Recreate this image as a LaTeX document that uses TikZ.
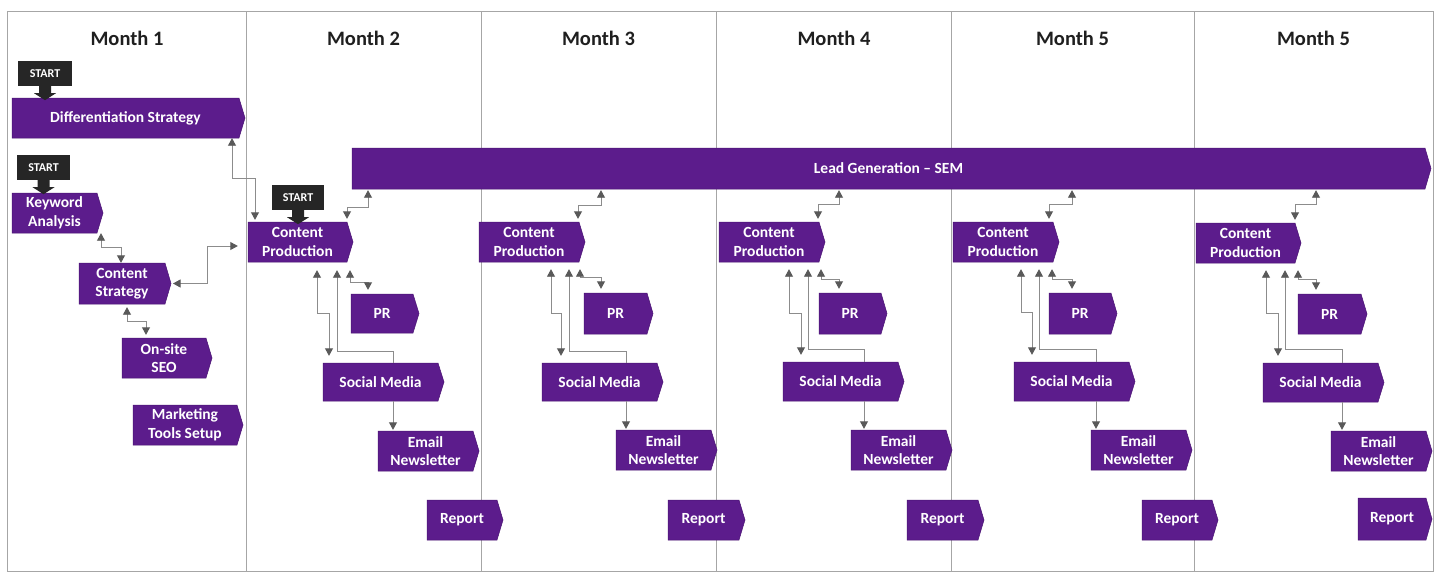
\documentclass[tikz,border=0pt]{standalone}
\usepackage{fontspec}
\setmainfont{Carlito}
\usetikzlibrary{arrows.meta}
\definecolor{stagepurple}{HTML}{5C1C8C}
\definecolor{stageedge}{HTML}{4A1473}
\definecolor{startdark}{HTML}{262626}
\definecolor{linegray}{HTML}{8C8C8C}
\definecolor{tipgray}{HTML}{595959}
\definecolor{framegray}{HTML}{A6A6A6}
\tikzset{
  stagefill/.style={fill=stagepurple, draw=stageedge, line width=0.5pt},
  stagetext/.style={text=white, font=\fontsize{15.5}{18.5}\selectfont\bfseries, align=center, inner sep=0pt},
  startbox/.style={fill=startdark, text=white, font=\fontsize{12}{14}\selectfont\bfseries, inner sep=0pt, minimum width=54pt, minimum height=25pt},
  startarr/.style={fill=startdark},
  monthhdr/.style={font=\fontsize{20.5}{24}\selectfont\bfseries, text=black!88, inner sep=0pt},
  frameline/.style={draw=framegray, line width=1pt},
  link/.style={draw=linegray, line width=0.9pt, >={Triangle[width=8pt,length=7.5pt,color=tipgray]}},
}
% #1 name, #2 x1, #3 y1, #4 x2 (tip), #5 y2, #6 text
\newcommand\stagebox[6]{%
  \fill[stagefill] (#2,#3) -- ({#4-6},#3) -- (#4,{(#3+#5)/2}) -- ({#4-6},#5) -- (#2,#5) -- cycle;
  \node[stagetext, minimum width={(#4-#2-6)*1pt}, minimum height={(#5-#3)*1pt}] (#1) at ({(#2+#4-6)/2},{(#3+#5)/2}) {#6};
}
\newcommand\startarrow[1]{%
  \fill[startarr] ([xshift=-6pt]#1.south) -- ++(0,7) -- ++(-5,0) -- ++(11,7) -- ++(11,-7) -- ++(-5,0) -- ++(0,-7) -- cycle;
}
\begin{document}
\begin{tikzpicture}[x=1pt,y=-1pt]
\fill[white] (0,0) rectangle (1440,576);
\useasboundingbox (0,0) rectangle (1440,576);
\draw[frameline] (7,11) rectangle (1433,571);
\foreach \x in {246,481,716,951,1194} \draw[frameline] (\x,11) -- (\x,571);

% headers
\node[monthhdr] (h1) at (127,38) {Month 1};
\node[monthhdr] (h2) at (363.5,38) {Month 2};
\node[monthhdr] (h3) at (598.5,38) {Month 3};
\node[monthhdr] (h4) at (834,38) {Month 4};
\node[monthhdr] (h5) at (1072.5,38) {Month 5};
\node[monthhdr] (h6) at (1313.5,38) {Month 5};

% Month 1
\stagebox{diff}{12}{98}{245}{138}{Differentiation Strategy}
\stagebox{kw}{12}{193}{103}{233}{Keyword\\Analysis}
\stagebox{cs}{79}{263}{171}{304}{Content\\Strategy}
\stagebox{seo}{122}{338}{212}{378}{On-site\\SEO}
\stagebox{mts}{133}{405}{243}{445}{Marketing\\Tools Setup}
\node[startbox] (s1) at (45,73.5) {START};
\node[startbox, minimum width=53pt] (s2) at (43.5,167.5) {START};
\startarrow{s1}
\startarrow{s2}

% Lead generation
\stagebox{lead}{352}{148}{1431}{189}{Lead Generation – SEM}

% Month 2
\stagebox{cp2}{248}{222}{353}{262}{Content\\Production}
\stagebox{pr2}{351}{294}{419}{333}{PR}
\stagebox{sm2}{323}{363}{444}{401}{Social Media}
\stagebox{em2}{378}{431}{479}{471}{Email\\Newsletter}
\stagebox{rep2}{427}{500}{503}{540}{Report}
\node[startbox, minimum width=52pt] (s3) at (298,197.5) {START};
\startarrow{s3}

% Month 3
\stagebox{cp3}{479}{222}{585}{262}{Content\\Production}
\stagebox{pr3}{584}{293}{653}{334}{PR}
\stagebox{sm3}{542}{363}{663}{401}{Social Media}
\stagebox{em3}{616}{430}{717}{470}{Email\\Newsletter}
\stagebox{rep3}{668}{500}{745}{540}{Report}

% Month 4
\stagebox{cp4}{719}{222}{825}{262}{Content\\Production}
\stagebox{pr4}{819}{293}{887}{334}{PR}
\stagebox{sm4}{783}{362}{904}{401}{Social Media}
\stagebox{em4}{851}{430}{952}{470}{Email\\Newsletter}
\stagebox{rep4}{907}{500}{984}{540}{Report}

% Month 5
\stagebox{cp5}{953}{222}{1059}{262}{Content\\Production}
\stagebox{pr5}{1049}{293}{1117}{334}{PR}
\stagebox{sm5}{1014}{362}{1135}{401}{Social Media}
\stagebox{em5}{1091}{430}{1192}{470}{Email\\Newsletter}
\stagebox{rep5}{1142}{500}{1218}{540}{Report}

% Month 6
\stagebox{cp6}{1196}{223}{1301}{263}{Content\\Production}
\stagebox{pr6}{1298}{294}{1367}{334}{PR}
\stagebox{sm6}{1263}{363}{1384}{402}{Social Media}
\stagebox{em6}{1331}{431}{1432}{471}{Email\\Newsletter}
\stagebox{rep6}{1358}{498}{1432}{540}{Report}

% Month 1 links
\draw[link,<->,shorten >=2pt] (diff.south -| 232,0) |- (255,178) -- (cp2.north -| 255,0);
\draw[link,<->] (kw.south -| 101,0) |- (121,247) -- (cs.north -| 121,0);
\draw[link,<->,shorten >=10pt] (cs.east -| 173,0) -| (207,246) -- (cp2.west |- 0,246);
\draw[link,<->,shorten <=3pt,shorten >=3pt] (cs.south -| 127,0) |- (146,321) -- (seo.north -| 146,0);

% Month 2 links
\draw[link,<->,shorten <=3pt,shorten >=1pt] (cp2.north -| 347,0) |- (368,207) -- (lead.south -| 368,0);
\draw[link,<->,shorten <=8pt,shorten >=4pt] (cp2.south -| 350,0) |- (368,282) -- (pr2.north -| 368,0);
\draw[link,<->,shorten <=8pt,shorten >=7pt] (cp2.south -| 317,0) |- (329,313) -- (sm2.north -| 329,0);
\draw[link,->,shorten >=8pt] (sm2.north -| 393,0) |- (337,351) -- (cp2.south -| 337,0);
\draw[link,->,shorten >=1pt] (sm2.south -| 393,0) -- (em2.north -| 393,0);

% Month 3 links
\draw[link,<->,shorten <=3pt,shorten >=1pt] (cp3.north -| 578,0) |- (601,205) -- (lead.south -| 601,0);
\draw[link,<->,shorten <=7pt,shorten >=4pt] (cp3.south -| 580,0) |- (601,277) -- (pr3.north -| 601,0);
\draw[link,<->,shorten <=7pt,shorten >=7pt] (cp3.south -| 551,0) |- (561,313) -- (sm3.north -| 561,0);
\draw[link,->,shorten >=7pt] (sm3.north -| 626,0) |- (569,351) -- (cp3.south -| 569,0);
\draw[link,->,shorten >=1pt] (sm3.south -| 626,0) -- (em3.north -| 626,0);

% Month 4 links
\draw[link,<->,shorten <=3pt,shorten >=1pt] (cp4.north -| 818,0) |- (839,204) -- (lead.south -| 839,0);
\draw[link,<->,shorten <=7pt,shorten >=4pt] (cp4.south -| 821,0) |- (839,279) -- (pr4.north -| 839,0);
\draw[link,<->,shorten <=7pt,shorten >=7pt] (cp4.south -| 789,0) |- (801,313) -- (sm4.north -| 801,0);
\draw[link,->,shorten >=7pt] (sm4.north -| 864,0) |- (808,349) -- (cp4.south -| 808,0);
\draw[link,->,shorten >=1pt] (sm4.south -| 864,0) -- (em4.north -| 864,0);

% Month 5 links
\draw[link,<->,shorten <=3pt,shorten >=1pt] (cp5.north -| 1049,0) |- (1072,204) -- (lead.south -| 1072,0);
\draw[link,<->,shorten <=7pt,shorten >=4pt] (cp5.south -| 1052,0) |- (1072,279) -- (pr5.north -| 1072,0);
\draw[link,<->,shorten <=7pt,shorten >=7pt] (cp5.south -| 1021,0) |- (1032,312) -- (sm5.north -| 1032,0);
\draw[link,->,shorten >=7pt] (sm5.north -| 1096,0) |- (1039,349) -- (cp5.south -| 1039,0);
\draw[link,->,shorten >=1pt] (sm5.south -| 1096,0) -- (em5.north -| 1096,0);

% Month 6 links
\draw[link,<->,shorten <=3pt,shorten >=1pt] (cp6.north -| 1295,0) |- (1316,204) -- (lead.south -| 1316,0);
\draw[link,<->,shorten <=7pt,shorten >=4pt] (cp6.south -| 1298,0) |- (1316,279) -- (pr6.north -| 1316,0);
\draw[link,<->,shorten <=7pt,shorten >=7pt] (cp6.south -| 1266,0) |- (1278,313) -- (sm6.north -| 1278,0);
\draw[link,->,shorten >=7pt] (sm6.north -| 1342,0) |- (1285,349) -- (cp6.south -| 1285,0);
\draw[link,->,shorten >=1pt] (sm6.south -| 1342,0) -- (em6.north -| 1342,0);
\end{tikzpicture}
\end{document}
